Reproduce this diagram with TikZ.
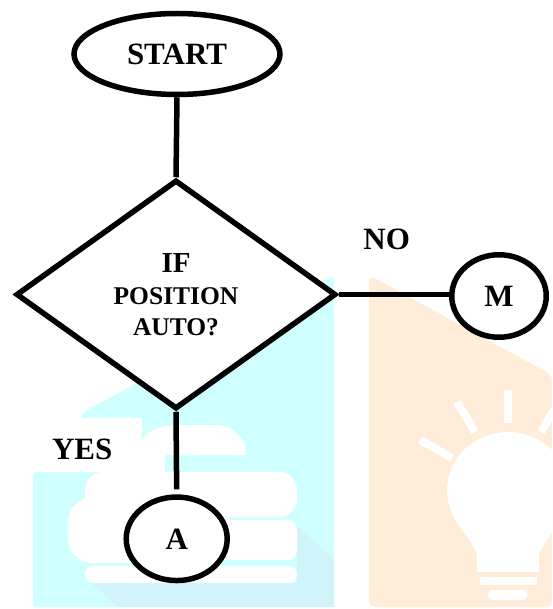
\documentclass[tikz,border=0pt]{standalone}
\usepackage{fontspec}
\setmainfont{Liberation Serif}
\usetikzlibrary{shapes.geometric}
\definecolor{wmcyan}{RGB}{208,255,255}
\definecolor{wmcyandark}{RGB}{208,244,250}
\definecolor{wmorange}{RGB}{255,236,217}
\tikzset{
  terminal/.style={ellipse, draw, fill=white, line width=5.5pt, inner sep=0pt,
    font=\fontsize{31}{36}\selectfont\bfseries},
  decision/.style={diamond, draw, fill=white, line width=5.5pt, inner sep=0pt,
    aspect=1.4, align=center, minimum width=320pt, minimum height=229pt,
    font=\fontsize{25.5}{31}\selectfont\bfseries},
  flowline/.style={line width=5.5pt},
  lbl/.style={anchor=base, inner sep=0pt, font=\fontsize{31}{36}\selectfont\bfseries},
  ray/.style={white, line width=8pt}
}
\begin{document}
\begin{tikzpicture}[x=1pt,y=-1pt]
\useasboundingbox (0,0) rectangle (552,609);
\clip (0,0) rectangle (552,609);
% ---- watermark (cyan logo) ----
\fill[wmcyan, rounded corners=4] (33,607) -- (33,472) -- (82,472) -- (82,413) -- (334,275) -- (334,607) -- cycle;
\fill[wmcyandark] (297,525) -- (334,560) -- (334,607) -- (118,607) -- (92,583) -- (297,583) -- cycle;
\fill[white] (82,418) -- (142,418) -- (142,440) .. controls (150,427) and (165,425) .. (190,425)
  -- (215,425) .. controls (235,425) and (245,440) .. (247,455) -- (165,455) -- (165,472) -- (82,472) -- cycle;
\fill[white, rounded corners=18] (85,472) rectangle (297,517);
\fill[white, rounded corners=25] (68,497) rectangle (230,563);
\fill[white, rounded corners=10] (200,520) rectangle (297,560);
\fill[white, rounded corners=8] (85,566) rectangle (297,583);
% ---- watermark (orange bulb logo) ----
\fill[wmorange, rounded corners=5] (369,607) -- (369,275) -- (552,375) -- (552,607) -- cycle;
\fill[white] (477,572) -- (477,555) .. controls (470,535) and (447,520) .. (447,490)
  arc[start angle=180, end angle=360, x radius=61, y radius=58]
  .. controls (569,520) and (546,535) .. (539,555) -- (539,572) -- cycle;
\fill[white] (480,577) rectangle (537,585);
\fill[white, rounded corners=4] (488,590) rectangle (527,600);
\draw[ray] (508,390) -- (508,423);
\draw[ray] (457,402) -- (475,432);
\draw[ray] (420,440) -- (452,458);
\draw[ray] (559,402) -- (541,432);
\draw[ray] (596,440) -- (564,458);
% ---- flowchart ----
\node[terminal, minimum width=206pt, minimum height=81pt] (start) at (177,54) {START};
\node[decision] (dec) at (176,294.5)
  {{\fontsize{29}{31}\selectfont IF}\\[1pt] POSITION\\ AUTO?};
\node[terminal, minimum width=94.5pt, minimum height=82.5pt] (m) at (499,296) {M};
\node[terminal, minimum width=101pt, minimum height=83.5pt] (a) at (176.7,538.8) {A};
\node[lbl] (no) at (386.7,249) {NO};
\node[lbl] (yes) at (82.2,459) {YES};
\draw[flowline] (start.south) -- (dec.north);
\draw[flowline] (dec.east) -- (dec.east -| m.west);
\draw[flowline, shorten >=5pt] (dec.south) -- (a.north);
\end{tikzpicture}
\end{document}
